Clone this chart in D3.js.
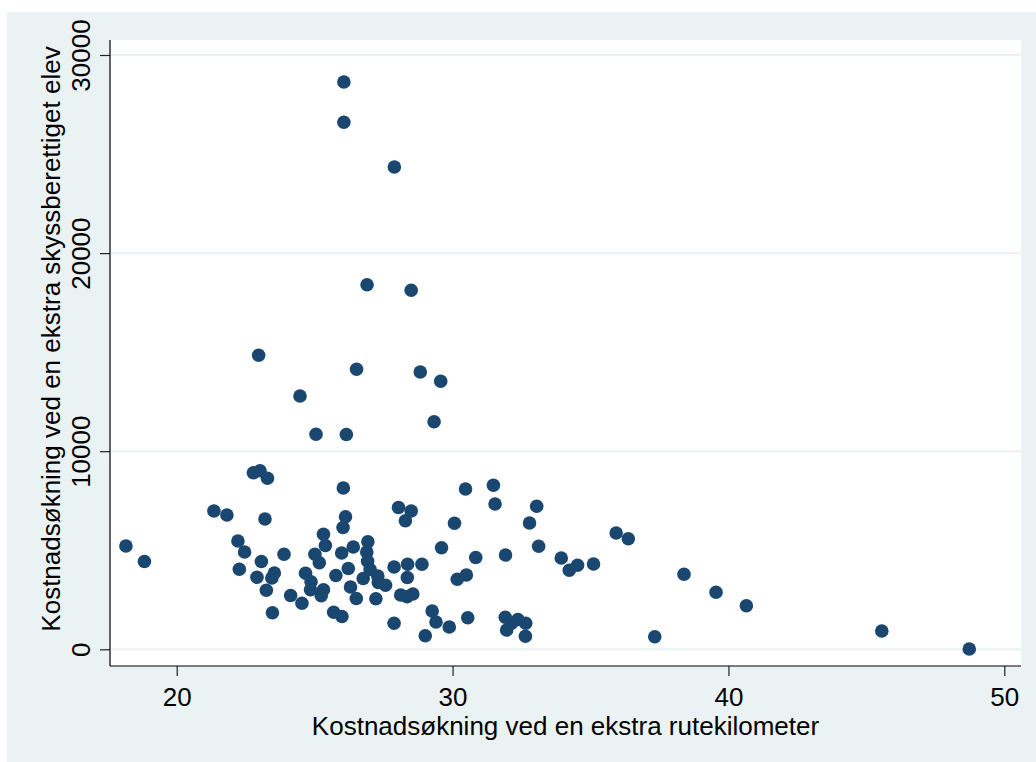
<!DOCTYPE html>
<html>
<head>
<meta charset="utf-8">
<script src="https://cdn.jsdelivr.net/npm/d3@7"></script>
<style>
  html, body { margin: 0; padding: 0; background: #ffffff; }
  svg { display: block; }
  text { font-family: "Liberation Sans", Arial, sans-serif; fill: #000; }
</style>
</head>
<body>
<svg id="chart" width="1036" height="762"></svg>
<script>
// Data: cost increase per extra route km (x) vs per extra eligible pupil (y)
const xValues = [
  18.16, 18.83, 21.35, 21.82, 22.22, 22.46, 22.27, 22.78, 23.02, 23.29,
  23.20, 23.07, 22.91, 23.89, 23.54, 23.45, 23.25, 24.13, 24.54, 23.47,
  24.47, 25.05, 26.15, 26.06, 26.06, 27.89, 26.90, 28.50, 22.97, 26.52,
  28.83, 29.57, 29.33, 26.04, 26.12, 26.03, 25.32, 25.39, 25.01, 25.17,
  24.67, 24.87, 24.85, 25.32, 25.24, 25.77, 25.98, 26.40, 26.22, 26.30,
  26.51, 25.69, 25.99, 26.93, 26.89, 26.92, 27.01, 26.76, 27.29, 27.31,
  27.57, 27.22, 27.88, 28.37, 28.89, 28.36, 28.04, 28.50, 28.29, 28.12,
  28.35, 28.56, 27.88, 29.26, 29.40, 29.88, 29.01, 29.60, 30.07, 30.47,
  31.48, 31.54, 33.05, 32.79, 33.12, 30.84, 31.92, 30.17, 30.50, 30.55,
  31.91, 31.96, 32.14, 32.37, 32.65, 32.64, 33.94, 34.23, 34.53, 35.11,
  35.93, 36.37, 38.39, 39.55, 40.65, 37.33, 45.56, 48.73
];
const yValues = [
  5215, 4432, 6981, 6780, 5467, 4912, 4038, 8915, 9016, 8632,
  6578, 4432, 3635, 4796, 3852, 3599, 2978, 2716, 2322, 1848,
  12787, 10853, 10843, 28638, 26603, 24346, 18405, 18122, 14841, 14134,
  13998, 13529, 11489, 8142, 6694, 6148, 5810, 5240, 4796, 4372,
  3836, 3412, 3009, 3009, 2706, 3725, 4861, 5164, 4079, 3145,
  2564, 1868, 1656, 5427, 4912, 4447, 4028, 3574, 3700, 3372,
  3231, 2549, 4155, 4291, 4291, 3624, 7158, 6981, 6492, 2741,
  2655, 2792, 1312, 1933, 1378, 1126, 687, 5129, 6360, 8092,
  8279, 7335, 7219, 6376, 5199, 4634, 4760, 3534, 3751, 1595,
  1615, 974, 1312, 1504, 1312, 661, 4609, 3993, 4240, 4306,
  5871, 5583, 3786, 2877, 2201, 636, 924, 15
];
const xTicks = [20, 30, 40, 50];
const yTicks = [0, 10000, 20000, 30000];
const xTitle = "Kostnadsøkning ved en ekstra rutekilometer";
const yTitle = "Kostnadsøkning ved en ekstra skyssberettiget elev";

const points = xValues.map((x, i) => ({ x, y: yValues[i] }));

const svg = d3.select("#chart");
const plot = { left: 110, right: 1021, top: 40, bottom: 666 };
const FS = 26;

// outer background
svg.append("rect")
  .attr("x", 7).attr("y", 12)
  .attr("width", 1036 - 7).attr("height", 762 - 12)
  .attr("fill", "#eaf2f3");

// plot area
svg.append("rect")
  .attr("x", plot.left).attr("y", plot.top)
  .attr("width", plot.right - plot.left).attr("height", plot.bottom - plot.top)
  .attr("fill", "#ffffff");

// scales (pixel anchors: 20 -> 176.7, 50 -> 1004.3; 0 -> 649.3, 30000 -> 55)
const x = d3.scaleLinear().domain([20, 50]).range([176.7, 1004.3]);
const y = d3.scaleLinear().domain([0, 30000]).range([649.3, 55]);

// gridlines
svg.append("g")
  .selectAll("line")
  .data(yTicks)
  .join("line")
  .attr("x1", plot.left + 1).attr("x2", plot.right)
  .attr("y1", d => y(d)).attr("y2", d => y(d))
  .attr("stroke", "#eaf2f3").attr("stroke-width", 2);

// points
svg.append("g")
  .selectAll("circle")
  .data(points)
  .join("circle")
  .attr("cx", d => x(d.x))
  .attr("cy", d => y(d.y))
  .attr("r", 6.8)
  .attr("fill", "#1a476f");

// x axis
const xAxis = d3.axisBottom(x).tickValues(xTicks).tickSize(10).tickFormat(d3.format("d"));
const gx = svg.append("g").attr("transform", `translate(0,${plot.bottom})`).call(xAxis);
gx.select(".domain").remove();
gx.selectAll(".tick line").attr("stroke", "#222").attr("stroke-width", 1.2);
gx.selectAll(".tick text")
  .attr("font-size", FS)
  .attr("font-family", "Liberation Sans, Arial, sans-serif")
  .attr("fill", "#000")
  .attr("dy", null)
  .attr("y", 39.5);
svg.append("line")
  .attr("x1", plot.left).attr("x2", plot.right)
  .attr("y1", plot.bottom).attr("y2", plot.bottom)
  .attr("stroke", "#000").attr("stroke-width", 1.2);

// y axis
const yAxis = d3.axisLeft(y).tickValues(yTicks).tickSize(10).tickFormat(d3.format("d"));
const gy = svg.append("g").attr("transform", `translate(${plot.left},0)`).call(yAxis);
gy.select(".domain").remove();
gy.selectAll(".tick line").attr("stroke", "#222").attr("stroke-width", 1.2);
gy.selectAll(".tick text")
  .attr("font-size", FS)
  .attr("font-family", "Liberation Sans, Arial, sans-serif")
  .attr("fill", "#000")
  .attr("x", null).attr("dy", null)
  .attr("text-anchor", "middle")
  .attr("transform", "translate(-20.5,0) rotate(-90)");
svg.append("line")
  .attr("x1", plot.left).attr("x2", plot.left)
  .attr("y1", plot.top).attr("y2", plot.bottom)
  .attr("stroke", "#000").attr("stroke-width", 1.2);

// axis titles
svg.append("text")
  .attr("x", (plot.left + plot.right) / 2)
  .attr("y", 734.5)
  .attr("text-anchor", "middle")
  .attr("font-size", FS)
  .text(xTitle);

svg.append("text")
  .attr("transform", `translate(60,339) rotate(-90)`)
  .attr("text-anchor", "middle")
  .attr("font-size", FS)
  .text(yTitle);
</script>
</body>
</html>
